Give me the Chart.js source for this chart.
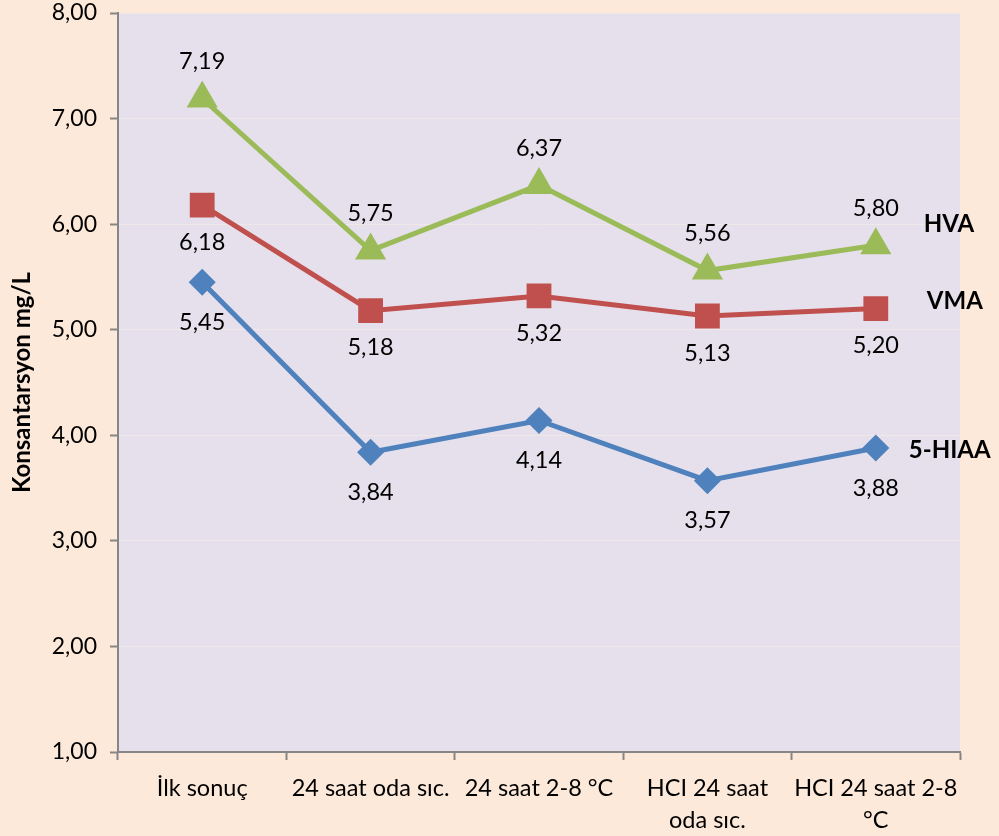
<!DOCTYPE html>
<html>
<head>
<meta charset="utf-8">
<script src="https://cdn.jsdelivr.net/npm/chart.js@4.4.1/dist/chart.umd.min.js"></script>
<style>
  html, body { margin: 0; padding: 0; background: #fde9d9; }
  #wrap { width: 999px; height: 836px; position: relative; }
</style>
</head>
<body>
<div id="wrap"><canvas id="c" width="999" height="836"></canvas></div>
<script>
const categories = [
  'İlk sonuç',
  '24 saat oda sıc.',
  '24 saat 2-8 °C',
  ['HCI 24 saat', 'oda sıc.'],
  ['HCI 24 saat 2-8', '°C']
];
const hvaValues   = [7.19, 5.75, 6.37, 5.56, 5.80];
const vmaValues   = [6.18, 5.18, 5.32, 5.13, 5.20];
const hiaaValues  = [5.45, 3.84, 4.14, 3.57, 3.88];
const yTicks = [1, 2, 3, 4, 5, 6, 7, 8];

const FONT = 'Lato, "Noto Sans", sans-serif';
const fmt = v => v.toFixed(2).replace('.', ',');
const noPadding = () => ({ left: 0, top: 0, right: 0, bottom: 0 });

// Plot area fill + value labels + series names beside the last point
const decor = {
  id: 'decor',
  beforeDraw(chart) {
    const { ctx, chartArea: a } = chart;
    ctx.save();
    ctx.fillStyle = '#e5e0ec';
    ctx.fillRect(a.left, a.top, a.right - a.left, a.bottom - a.top);
    ctx.restore();
  },
  afterDatasetsDraw(chart) {
    const { ctx } = chart;
    ctx.save();
    ctx.textBaseline = 'middle';
    ctx.fillStyle = '#000';
    chart.data.datasets.forEach((ds, i) => {
      const meta = chart.getDatasetMeta(i);
      ctx.font = '23.5px ' + FONT;
      ctx.textAlign = 'center';
      meta.data.forEach((pt, j) => {
        ctx.fillText(fmt(ds.data[j]), pt.x, pt.y + ds.labelOffset);
      });
      const last = meta.data[meta.data.length - 1];
      ctx.font = 'bold 24px ' + FONT;
      ctx.textAlign = 'left';
      ctx.fillText(ds.label, last.x + ds.nameDx, last.y + ds.nameDy);
    });
    ctx.restore();
  }
};

new Chart(document.getElementById('c'), {
  type: 'line',
  data: {
    labels: categories,
    datasets: [
      {
        label: 'HVA', data: hvaValues,
        borderColor: '#9bbb59', backgroundColor: '#9bbb59',
        pointStyle: 'triangle', pointRadius: 13, borderWidth: 5,
        labelOffset: -37, nameDx: 48, nameDy: -21
      },
      {
        label: 'VMA', data: vmaValues,
        borderColor: '#c0504d', backgroundColor: '#c0504d',
        pointStyle: 'rect', pointRadius: 14, borderWidth: 5,
        labelOffset: 37, nameDx: 51, nameDy: -7
      },
      {
        label: '5-HIAA', data: hiaaValues,
        borderColor: '#4f81bd', backgroundColor: '#4f81bd',
        pointStyle: 'rectRot', pointRadius: 10, borderWidth: 5,
        labelOffset: 40, nameDx: 33, nameDy: 2
      }
    ]
  },
  options: {
    responsive: false,
    animation: false,
    layout: { autoPadding: false, padding: { top: 13, right: 39, left: 0, bottom: 0 } },
    plugins: { legend: { display: false }, tooltip: { enabled: false } },
    elements: { line: { tension: 0 } },
    scales: {
      x: {
        offset: true,
        grid: {
          offset: true, drawOnChartArea: false,
          tickLength: 8, tickColor: '#868686', tickWidth: 2
        },
        border: { color: '#868686', width: 2 },
        ticks: {
          color: '#000', padding: 12, maxRotation: 0, autoSkip: false,
          font: { family: FONT, size: 23.5, lineHeight: 1.36 }
        },
        afterFit(s) { s.height = 84; s.getPadding = noPadding; }
      },
      y: {
        min: 1, max: 8,
        afterBuildTicks(s) { s.ticks = yTicks.map(v => ({ value: v })); },
        grid: {
          color: '#efe8e6', lineWidth: 1,
          tickLength: 8, tickColor: '#868686', tickWidth: 2
        },
        border: { color: '#868686', width: 2 },
        ticks: {
          color: '#000', padding: 13,
          font: { family: FONT, size: 23 },
          callback: v => fmt(v)
        },
        title: {
          display: true, text: 'Konsantarsyon mg/L', color: '#000',
          font: { family: FONT, size: 24, weight: 'bold' },
          padding: { top: 8, bottom: 0 }
        },
        afterFit(s) { s.width = 118; s.getPadding = noPadding; }
      }
    }
  },
  plugins: [decor]
});
</script>
</body>
</html>
